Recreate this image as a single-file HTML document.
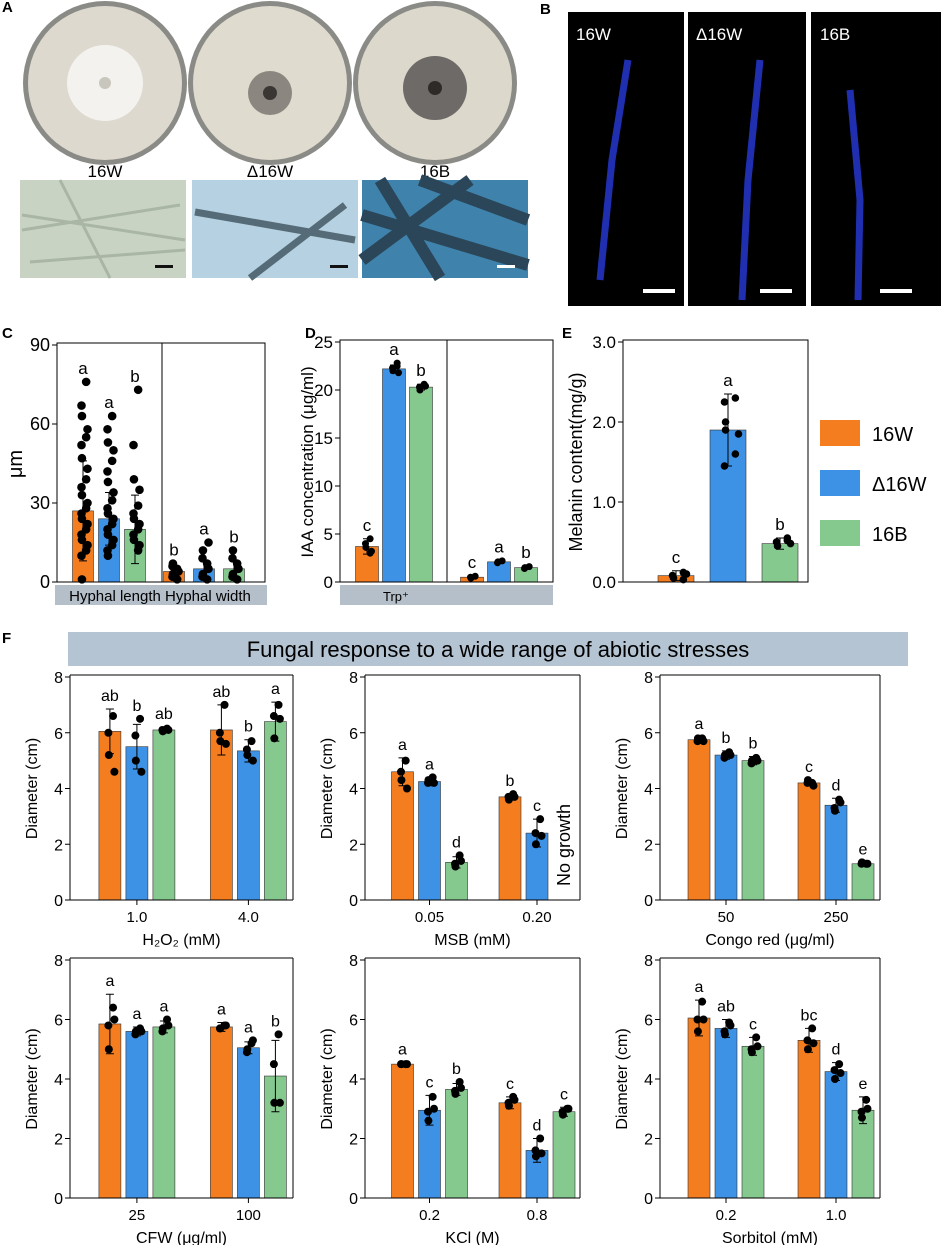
<!DOCTYPE html>
<html><head><meta charset="utf-8">
<style>
html,body{margin:0;padding:0;background:#fff;}
svg{display:block;font-family:"Liberation Sans",Arial,sans-serif;}
</style></head>
<body>
<svg id="fig" width="945" height="1245" viewBox="0 0 945 1245" xmlns="http://www.w3.org/2000/svg">
<g>
  <text x="2" y="12" font-size="15" font-weight="bold">A</text>
  <circle cx="105" cy="83" r="82" fill="#8a8a86"/>
  <circle cx="105" cy="83" r="77" fill="#ddd9cf"/>
  <circle cx="105" cy="83" r="38" fill="#f3f2ee"/>
  <circle cx="105" cy="83" r="6" fill="#c9c6bd"/>
  <circle cx="270" cy="83" r="82" fill="#8a8a86"/>
  <circle cx="270" cy="83" r="77" fill="#e0dbcf"/>
  <circle cx="270" cy="93" r="22" fill="#8c8680"/>
  <circle cx="270" cy="93" r="7" fill="#3a3633"/>
  <circle cx="435" cy="83" r="82" fill="#8a8a86"/>
  <circle cx="435" cy="83" r="77" fill="#ddd8cc"/>
  <circle cx="435" cy="88" r="32" fill="#6d6a68"/>
  <circle cx="435" cy="88" r="7" fill="#2d2a28"/>
  <text x="105" y="177" font-size="17" text-anchor="middle">16W</text>
  <text x="270" y="177" font-size="17" text-anchor="middle">Δ16W</text>
  <text x="435" y="177" font-size="17" text-anchor="middle">16B</text>
  <rect x="20" y="180" width="166" height="98" fill="#c9d3c4"/>
  <path d="M22 215 L185 240 M22 230 L180 205 M60 180 L110 278 M30 262 L185 250" stroke="#a9b5a5" stroke-width="3" fill="none"/>
  <rect x="155" y="265" width="18" height="3" fill="#111"/>
  <rect x="192" y="180" width="166" height="98" fill="#b6d1e1"/>
  <path d="M195 212 L355 240 M250 278 L345 205" stroke="#556b77" stroke-width="7" fill="none"/>
  <rect x="330" y="265" width="18" height="3" fill="#111"/>
  <rect x="362" y="180" width="166" height="98" fill="#3f82ac"/>
  <path d="M362 215 L528 265 M380 180 L440 278 M420 180 L528 220 M362 260 L470 180" stroke="#2a4658" stroke-width="12" fill="none"/>
  <rect x="497" y="265" width="18" height="3" fill="#fff"/>
</g>
<g>
  <text x="540" y="14" font-size="15" font-weight="bold">B</text>
  <rect x="568" y="12" width="116" height="294" fill="#000"/>
  <rect x="688" y="12" width="118" height="294" fill="#000"/>
  <rect x="811" y="12" width="130" height="294" fill="#000"/>
  <path d="M628 60 L612 160 L600 280" stroke="#1f2fb0" stroke-width="7" fill="none"/>
  <path d="M760 60 L748 180 L742 300" stroke="#1f2fb0" stroke-width="7" fill="none"/>
  <path d="M850 90 L860 200 L858 300" stroke="#1f2fb0" stroke-width="7" fill="none"/>
  <text x="576" y="40" font-size="17" fill="#fff">16W</text>
  <text x="696" y="40" font-size="17" fill="#fff">Δ16W</text>
  <text x="820" y="40" font-size="17" fill="#fff">16B</text>
  <rect x="643" y="289" width="32" height="4" fill="#fff"/>
  <rect x="760" y="289" width="32" height="4" fill="#fff"/>
  <rect x="880" y="289" width="32" height="4" fill="#fff"/>
</g>
<g id="charts"></g>
</svg>
<script>
const NS="http://www.w3.org/2000/svg";
const COLORS=["#f47d20","#3e92e6","#86c98f"];
const root=document.getElementById("charts");
function mk(tag,attrs,parent,text){const e=document.createElementNS(NS,tag);for(const k in attrs)e.setAttribute(k,attrs[k]);if(text!==undefined)e.textContent=text;(parent||root).appendChild(e);return e;}

// ---- Panel C data
const cCategories=["Hyphal length","Hyphal width"];
const cMeans=[[27,24,20],[4,5,5]];
const cErr=[[19,10,13],[2,3,3]];
const cLetters=[["a","a","b"],["b","a","b"]];
const cDots=[[[76,67,63,58,55,52,47,43,39,36,33,30,28,26,24,22,20,18,16,14,12,10,1],[63,58,53,50,46,42,38,34,31,28,26,24,22,20,18,16,14,12,10],[73,52,39,35,29,26,24,22,20,18,16,14,12]],[[1,2,3,4,5,6,7],[1,2,3,5,7,9,12,15],[1,2,3,5,7,9,12]]];
// ---- Panel D data
const dCategories=["Trp+","Trp-"];
const dMeans=[[3.7,22.2,20.3],[0.5,2.1,1.5]];
const dErr=[[0.8,0.4,0.3],[0.15,0.15,0.15]];
const dLetters=[["c","a","b"],["c","a","b"]];
const dDots=[[[4.5,4.0,3.6,3.2,3.0],[22.8,22.3,22.0,21.8,22.5],[20.6,20.3,20.0,20.4]],[[0.6,0.5,0.4],[2.2,2.0,2.1],[1.6,1.4,1.5]]];
// ---- Panel E data
const eMeans=[0.08,1.9,0.48];
const eErr=[0.06,0.45,0.07];
const eLetters=["c","a","b"];
const eDots=[[0.12,0.08,0.05,0.1,0.03],[2.3,2.25,2.0,1.85,1.6,1.45,1.9],[0.55,0.5,0.45,0.48,0.52]];
// ---- Panel F data
const fTitles=["H₂O₂ (mM)","MSB (mM)","Congo red (μg/ml)","CFW (μg/ml)","KCl (M)","Sorbitol (mM)"];
const fCats=[["1.0","4.0"],["0.05","0.20"],["50","250"],["25","100"],["0.2","0.8"],["0.2","1.0"]];
const fMeans=[[[6.05,5.5,6.1],[6.1,5.35,6.4]],[[4.6,4.25,1.35],[3.7,2.4,null]],[[5.75,5.2,5.0],[4.2,3.4,1.3]],[[5.85,5.6,5.75],[5.75,5.05,4.1]],[[4.5,2.95,3.65],[3.2,1.6,2.9]],[[6.05,5.7,5.1],[5.3,4.25,2.95]]];
const fErr=[[[0.8,0.8,0.1],[0.9,0.4,0.7]],[[0.5,0.15,0.2],[0.1,0.5,0]],[[0.1,0.15,0.15],[0.1,0.25,0.05]],[[1.0,0.15,0.2],[0.15,0.2,1.2]],[[0.05,0.5,0.2],[0.2,0.4,0.15]],[[0.6,0.3,0.3],[0.4,0.3,0.45]]];
const fLetters=[[["ab","b","ab"],["ab","b","a"]],[["a","a","d"],["b","c",""]],[["a","b","b"],["c","d","e"]],[["a","a","a"],["a","a","b"]],[["a","c","b"],["c","d","c"]],[["a","ab","c"],["bc","d","e"]]];
const fDots=[[[[6.6,6.0,5.2,4.6],[6.5,5.9,5.0,4.6],[6.15,6.1,6.05,6.1]],[[7.0,6.0,5.7,5.6],[5.7,5.4,5.2,5.0],[7.0,6.6,5.8,6.5]]],
[[[5.0,4.6,4.3,4.0],[4.4,4.2,4.3,4.2],[1.6,1.3,1.2,1.4]],[[3.8,3.7,3.6,3.7],[2.9,2.4,2.0,2.3],[]]],
[[[5.8,5.7,5.8,5.7],[5.3,5.1,5.2,5.2],[5.1,4.9,5.0,5.0]],[[4.2,4.2,4.3,4.1],[3.6,3.3,3.2,3.5],[1.3,1.3,1.35,1.3]]],
[[[6.4,5.8,5.0,6.0],[5.7,5.5,5.6,5.6],[6.0,5.6,5.7,5.8]],[[5.8,5.7,5.7,5.8],[5.2,4.9,5.0,5.3],[5.5,4.5,3.2,3.2]]],
[[[4.5,4.5,4.5,4.5],[3.4,2.9,2.6,3.0],[3.9,3.6,3.5,3.7]],[[3.4,3.2,3.1,3.3],[2.0,1.6,1.4,1.5],[3.0,2.9,2.8,3.0]]],
[[[6.6,6.0,5.6,6.0],[5.9,5.6,5.5,5.8],[5.4,5.0,4.9,5.1]],[[5.7,5.3,5.0,5.2],[4.5,4.3,4.0,4.2],[3.3,2.9,2.7,3.0]]]];
const fTicks=[0,2,4,6,8];

function scaleY(ax,v){return ax.y0-(v/ax.max)*(ax.y0-ax.y1);}
function drawBar(ax,cx,w,val,err,letter,dots,color,i,dotR,spread){
  if(val===null)return;
  const y=scaleY(ax,val);
  const r=mk("rect",{x:cx-w/2,y:y,width:w,height:ax.y0-y,fill:color,stroke:"#333","stroke-width":0.6});
  
  
  const ye=scaleY(ax,val+err),yl=scaleY(ax,Math.max(0,val-err));
  mk("path",{d:`M${cx} ${ye}V${yl}M${cx-4} ${ye}H${cx+4}M${cx-4} ${yl}H${cx+4}`,stroke:"#000","stroke-width":1,fill:"none"});
  dots.forEach((d,k)=>{
    const off=((k%4)-1.5)*spread*(k%2?1:-0.7);
    const c=mk("circle",{cx:cx+off,cy:scaleY(ax,d),r:dotR,fill:"#000"});
    
    
  });
  const top=Math.max(val+err,Math.max(val,...(dots.length?dots:[0])));
  if(letter){const t=mk("text",{x:cx,y:scaleY(ax,top)-8,"font-size":ax.lf||17,"text-anchor":"middle"},root,letter);
  
  }
}
function yAxis(ax,ticks,fmt,fs){
  ticks.forEach(t=>{const y=scaleY(ax,t);
    mk("line",{x1:ax.x0-5,x2:ax.x0,y1:y,y2:y,stroke:"#000"});
    const l=mk("text",{x:ax.x0-7,y:y+6,"font-size":fs,"text-anchor":"end"},root,fmt(t));
    
    });
}
function frame(ax,name){const f=mk("rect",{x:ax.x0,y:ax.y1-2,width:ax.x1-ax.x0,height:ax.y0-ax.y1+2,fill:"none",stroke:"#000","stroke-width":1});
  
  }

// Panel C
(function(){
  const ax={x0:57,x1:265,y0:582,y1:345,max:90};
  mk("text",{x:2,y:338,"font-size":15,"font-weight":"bold"},root,"C");
  yAxis(ax,[0,30,60,90],t=>t,18);
  mk("text",{x:0,y:0,"font-size":20,"text-anchor":"middle",transform:"translate(22,464) rotate(-90)"},root,"μm");
  const starts=[83,174];
  cCategories.forEach((c,g)=>{for(let i=0;i<3;i++){const cx=starts[g]+i*26+(g?4*i:0);
    drawBar(ax,cx,21,cMeans[g][i],cErr[g][i],cLetters[g][i],cDots[g][i],COLORS[i],g*3+i,4.3,3);}});
  mk("line",{x1:162,x2:162,y1:343,y2:582,stroke:"#000"});
  frame(ax,"panel-c-frame");
  mk("rect",{x:55,y:585,width:212,height:20,fill:"#b4bfc9"});
  mk("text",{x:160,y:601,"font-size":15,"text-anchor":"middle"},root,"Hyphal length Hyphal width");
})();
// Panel D
(function(){
  const ax={x0:340,x1:553,y0:582,y1:342,max:25};
  mk("text",{x:305,y:338,"font-size":15,"font-weight":"bold"},root,"D");
  yAxis(ax,[0,5,10,15,20,25],t=>t,17);
  mk("text",{x:0,y:0,"font-size":17,"text-anchor":"middle",transform:"translate(313,462) rotate(-90)"},root,"IAA concentration (μg/ml)");
  const starts=[367,472];
  dCategories.forEach((c,g)=>{for(let i=0;i<3;i++){drawBar(ax,starts[g]+i*27,23,dMeans[g][i],dErr[g][i],dLetters[g][i],dDots[g][i],COLORS[i],i,3.5,3);}});
  mk("line",{x1:447,x2:447,y1:340,y2:582,stroke:"#000"});
  frame(ax,"panel-d-frame");
  mk("rect",{x:340,y:585,width:213,height:20,fill:"#b4bfc9"});
  mk("text",{x:383,y:601,"font-size":13},root,"Trp⁺");
})();
// Panel E
(function(){
  const ax={x0:623,x1:808,y0:582,y1:342,max:3};
  mk("text",{x:562,y:338,"font-size":15,"font-weight":"bold"},root,"E");
  yAxis(ax,[0,1,2,3],t=>t.toFixed(1),17);
  mk("text",{x:0,y:0,"font-size":18,"text-anchor":"middle",transform:"translate(582,462) rotate(-90)"},root,"Melanin content(mg/g)");
  const cxs=[676,728,780];
  for(let i=0;i<3;i++)drawBar(ax,cxs[i],36,eMeans[i],eErr[i],eLetters[i],eDots[i],COLORS[i],i,3.8,7);
  frame(ax,"panel-e-frame");
  const names=["16W","Δ16W","16B"];
  names.forEach((n,i)=>{const y=420+i*50;
    const s=mk("rect",{x:820,y:y,width:40,height:26,fill:COLORS[i]});
    
    
    const t=mk("text",{x:872,y:y+21,"font-size":20},root,n);
    
    });
})();
// Panel F
mk("text",{x:2,y:643,"font-size":15,"font-weight":"bold"},root,"F");
const ban=mk("rect",{x:68,y:632,width:840,height:34,fill:"#b4c4d2"});


mk("text",{x:498,y:657,"font-size":22,"text-anchor":"middle"},root,"Fungal response to a wide range of abiotic stresses");
const fx=[[70,293],[365,580],[660,880]];
const fy=[[677,900],[960,1198]];
for(let p=0;p<6;p++){
  const c=p%3,r=Math.floor(p/3);
  const ax={x0:fx[c][0],x1:fx[c][1],y0:fy[r][1],y1:fy[r][0],max:8,lf:16};
  yAxis(ax,fTicks,t=>t,16);
  mk("text",{x:0,y:0,"font-size":16,"text-anchor":"middle",transform:`translate(${ax.x0-33},${(ax.y0+ax.y1)/2}) rotate(-90)`},root,"Diameter (cm)");
  const W=ax.x1-ax.x0;const gc=[ax.x0+W*0.3,ax.x0+W*0.8];
  for(let g=0;g<2;g++){
    for(let i=0;i<3;i++)drawBar(ax,gc[g]+(i-1)*27,22,fMeans[p][g][i],fErr[p][g][i],fLetters[p][g][i],fDots[p][g][i],COLORS[i],i,4,3);
    mk("line",{x1:gc[g],x2:gc[g],y1:ax.y0,y2:ax.y0+5,stroke:"#000"});
    const t=mk("text",{x:gc[g],y:ax.y0+22,"font-size":15,"text-anchor":"middle"},root,fCats[p][g]);
    
    
  }
  mk("line",{x1:ax.x0,x2:ax.x1,y1:ax.y0,y2:ax.y0,stroke:"#000"});
  mk("line",{x1:ax.x0,x2:ax.x0,y1:ax.y1-2,y2:ax.y0,stroke:"#000"});
  mk("line",{x1:ax.x1,x2:ax.x1,y1:ax.y1-2,y2:ax.y0,stroke:"#000"});
  mk("line",{x1:ax.x0,x2:ax.x1,y1:ax.y1-2,y2:ax.y1-2,stroke:"#000"});
  const tt=mk("text",{x:(ax.x0+ax.x1)/2,y:ax.y0+45,"font-size":16,"text-anchor":"middle"},root,fTitles[p]);
  
  
  if(p===1){mk("text",{x:0,y:0,"font-size":18,"text-anchor":"middle",transform:`translate(${gc[1]+33},${ax.y0-55}) rotate(-90)`},root,"No growth");}
}
</script>
</body></html>
